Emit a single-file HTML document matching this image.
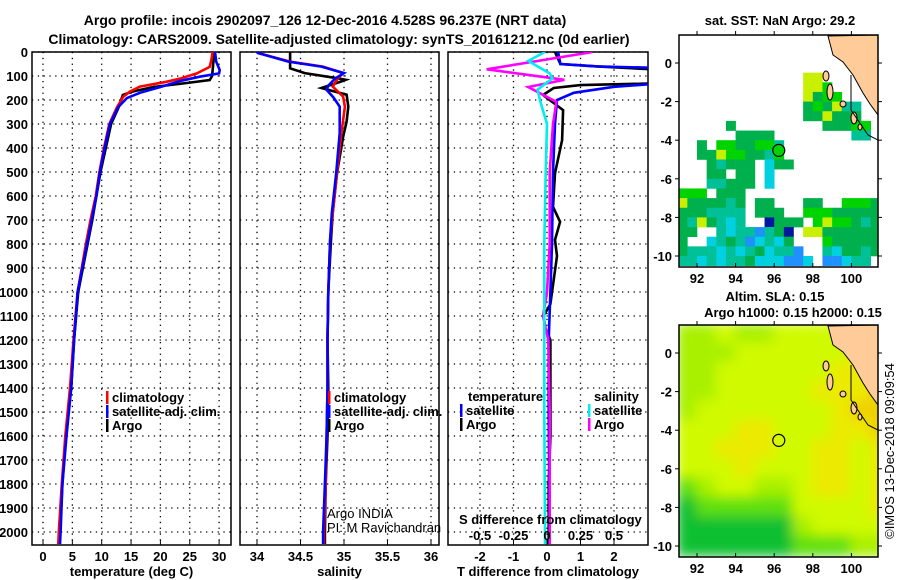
<!DOCTYPE html>
<html><head><meta charset="utf-8"><style>
html,body{margin:0;padding:0;background:#fff;}
svg{display:block;font-family:"Liberation Sans",sans-serif;font-weight:bold;}
</style></head><body>
<svg id="fig" width="900" height="580" viewBox="0 0 900 580" xmlns="http://www.w3.org/2000/svg">
<text x="325" y="25" font-size="14" text-anchor="middle">Argo profile: incois 2902097_126 12-Dec-2016 4.528S 96.237E (NRT data)</text>
<text x="339" y="44" font-size="14" text-anchor="middle">Climatology: CARS2009. Satellite-adjusted climatology: synTS_20161212.nc (0d earlier)</text>
<g id="g"></g>
</svg>
<script>
// ---- data ----
const depthTicks=[0,100,200,300,400,500,600,700,800,900,1000,1100,1200,1300,1400,1500,1600,1700,1800,1900,2000];
const tempTicks=[0,5,10,15,20,25,30];
const salTicks=[34,34.5,35,35.5,36];
const tdiffTicks=[-2,-1,0,1,2];
const sdiffTicks=[-0.5,-0.25,0,0.25,0.5];
const climTDepth=[0,30,62,89,110,124,144,165,186,230,300,400,500,600,700,800,1000,1200,1400,1600,1800,2000,2050];
const climT=[28.9,28.7,28.4,26.2,23.5,21,16.5,14.8,13.7,12.6,11.3,10.4,9.6,9.0,8.1,7.3,5.9,5.2,4.6,3.8,3.2,2.7,2.6];
const argoTDepth=[0,50,100,117,129,146,165,179,230,300,400,500,600,700,800,1000,1200,1400,1600,1800,2000,2050];
const argoT=[29.2,29.0,28.8,28.4,24.5,18.8,15.2,13.6,12.9,11.6,10.7,9.8,9.1,8.4,7.6,6.0,5.3,4.8,3.9,3.3,2.9,2.8];
const satTDepth=[0,40,75,89,103,120,146,170,192,230,300,400,500,600,700,800,1000,1200,1400,1600,1800,2000,2050];
const satT=[29.3,29.5,30.1,30.0,26.7,23.5,20,16.5,14.3,12.8,11.4,10.5,9.7,9.1,8.3,7.5,5.9,5.3,4.8,4.0,3.3,3.0,2.9];
const climSDepth=[0,4,40,61,88,110,144,186,228,338,505,672,783,1000,1200,1400,1600,1800,2000,2050];
const climS=[34.0,34.01,34.38,34.76,34.99,34.93,34.87,34.99,35.01,34.97,34.92,34.87,34.84,34.82,34.81,34.81,34.8,34.79,34.77,34.77];
const argoSDepth=[0,68,88,109,116,125,150,178,228,290,354,505,672,783,1000,1200,1400,1600,1800,2000,2050];
const argoS=[34.38,34.38,34.55,34.92,35.02,34.95,34.74,35.03,35.05,35.03,34.99,34.92,34.87,34.85,34.82,34.81,34.82,34.81,34.79,34.78,34.78];
const satSDepth=[0,4,40,61,88,110,140,158,190,228,338,505,672,783,1000,1200,1400,1600,1800,2000,2050];
const satS=[34.0,34.01,34.36,34.74,35.0,34.9,34.82,34.80,34.88,34.95,34.95,34.91,34.86,34.84,34.82,34.81,34.81,34.80,34.78,34.76,34.76];
const argoDTDepth=[0,50,60,75,130,138,150,179,242,367,505,645,708,783,850,950,1050,1100,1150,1200,1400,1600,1800,2000,2050];
const argoDT=[0.24,0.4,1.5,3.5,3.5,1.0,0.2,-0.12,0.48,0.45,0.24,0.18,0.39,0.24,0.3,0.2,0.1,-0.1,-0.05,0.1,0.1,0.1,0.05,0.05,0.05];
const satDTDepth=[0,50,60,67,130,145,170,200,300,500,800,1000,1200,1500,2000,2050];
const satDT=[0.33,0.4,1.5,3.5,3.5,2.0,0.8,0.3,0.24,0.18,0.15,0.1,0.05,0.05,0.08,0.08];
const argoDSDepth=[0,72,116,146,208,300,500,800,1000,1100,1200,1500,2000,2050];
const argoDS=[0.34,-0.45,0.13,-0.14,0.07,0.045,0.02,0.02,0.0,-0.03,0.01,0.02,0.02,0.02];
const satDSDepth=[0,37,89,110,157,206,300,500,800,1000,1500,2000,2050];
const satDS=[-0.015,-0.14,0.02,0.04,-0.07,-0.05,0,-0.01,-0.02,-0.02,-0.02,-0.015,-0.015];
const lonTicks=[92,94,96,98,100];
const latTicks=[0,-2,-4,-6,-8,-10];
const argoLon=96.237, argoLat=-4.528;
const sstGrid=[
".....................",
".....................",
".....................",
".....................",
".............yy......",
".............yyb.....",
".............ygbb....",
".............gbgytt..",
".............ggyggg..",
".....g.........gggbb.",
"......gggg........tt.",
"..g.bbggbbt..........",
"..ggybbggtb..........",
"...gtggg.cgg.........",
"...gg.gg.c...........",
"...ttggg.c...........",
"bbb.ggg..............",
"yggggtg.gg...gg..bbbg",
"gggtttt.ggg..bbbggggg",
"gtygtct..nggg.bybbgtg",
"gg..tcttutgn.yygggggg",
"g..ctgtuctcg...bggggg",
"gtttctctgcttu..tcggtg",
"ttctcttgcccuuc.uuctt."];
const sstColors={g:"#00b04c",b:"#00d400",y:"#c8f000",t:"#00c098",c:"#00d0e0",u:"#2090ff",n:"#0018a0"};
const slaGrid=[
[2,2,3,2,2,3,3,3,3,3,3],
[2,2,2,3,3,3,3,3,3,4,4],
[2,2,3,3,3,3,3,3,4,4,4],
[2,2,3,3,3,3,3,4,4,4,5],
[2,3,3,3,3,3,3,3,4,5,5],
[3,3,3,4,4,3,3,3,4,4,5],
[3,3,4,4,4,3,3,4,4,3,4],
[3,3,3,4,3,3,3,4,4,3,4],
[1,2,3,3,2,2,3,4,4,3,4],
[0,1,1,1,1,1,3,3,3,3,4],
[0,0,0,0,0,0,2,3,3,3,3],
[0,0,0,0,0,0,1,1,1,2,2]];
const slaColors=["#10c030","#60e010","#a8f000","#d0fa00","#ecea00","#f0d000"];

// ---- helpers ----
const NS="http://www.w3.org/2000/svg";
const G=document.getElementById('g');
function mk(tag,attrs,parent){const e=document.createElementNS(NS,tag);for(const k in attrs)e.setAttribute(k,attrs[k]);(parent||G).appendChild(e);return e;}
const top0=52, bot=545;
const yD=d=>top0+d*0.24;
const panels=[
 {x0:32,x1:231,name:'temperature-panel',xf:v=>43+v*5.87,ticks:tempTicks,lab:'temperature (deg C)'},
 {x0:240,x1:439,name:'salinity-panel',xf:v=>257+(v-34)*87,ticks:salTicks,lab:'salinity'},
 {x0:448,x1:648,name:'difference-panel',xf:v=>547+v*33.5,ticks:tdiffTicks,lab:'T difference from climatology'}];
const sx=v=>547+v*134;
let defs=mk('defs',{});
panels.forEach((p,i)=>{
  const cp=mk('clipPath',{id:'cp'+i},defs);
  mk('rect',{x:p.x0,y:top0,width:p.x1-p.x0,height:bot-top0},cp);
  const g=mk('g',{});
  
  
  depthTicks.forEach(d=>{const l=mk('line',{x1:p.x0,x2:p.x1,y1:yD(d),y2:yD(d),stroke:'#000','stroke-width':1.3,'stroke-dasharray':'1.3 4.5'},g);
    });
  p.ticks.forEach(t=>{const x=p.xf(t);
    const l=mk('line',{x1:x,x2:x,y1:top0,y2:bot,stroke:'#000','stroke-width':1.3,'stroke-dasharray':'1.3 4.5'},g);
    
    mk('line',{x1:x,x2:x,y1:bot,y2:bot-5,stroke:'#000','stroke-width':1},g);
    const tx=mk('text',{x:x,y:561,'font-size':13,'text-anchor':'middle'},g);tx.textContent=String(t);
    });
  const fr=mk('rect',{x:p.x0,y:top0,width:p.x1-p.x0,height:bot-top0,fill:'none',stroke:'#000','stroke-width':1.5},g);
  
  const xl=mk('text',{x:(p.x0+p.x1)/2,y:576,'font-size':13,'text-anchor':'middle'},g);xl.textContent=p.lab;
  
  p.g=g;
});
depthTicks.forEach(d=>{const t=mk('text',{x:28,y:yD(d)+5,'font-size':13,'text-anchor':'end'});t.textContent=String(d);
  });
function line(pi,depths,vals,xf,color,name){
  const pts=depths.map((d,k)=>xf(vals[k]).toFixed(1)+','+yD(d).toFixed(1)).join(' ');
  const l=mk('polyline',{points:pts,fill:'none',stroke:color,'stroke-width':2.6,'clip-path':'url(#cp'+pi+')'},panels[pi].g);
  
  
}
const pT=panels[0].xf,pS=panels[1].xf,pD=panels[2].xf;
line(0,argoTDepth,argoT,pT,'#000','argo-temperature-line');
line(0,climTDepth,climT,pT,'#f00','climatology-temperature-line');
line(0,satTDepth,satT,pT,'#00f','satellite-temperature-line');
line(1,argoSDepth,argoS,pS,'#000','argo-salinity-line');
line(1,climSDepth,climS,pS,'#f00','climatology-salinity-line');
line(1,satSDepth,satS,pS,'#00f','satellite-salinity-line');
line(2,argoDTDepth,argoDT,pD,'#000','argo-t-diff-line');
line(2,satDTDepth,satDT,pD,'#00f','satellite-t-diff-line');
line(2,argoDSDepth,argoDS,sx,'#f0f','argo-s-diff-line');
line(2,satDSDepth,satDS,sx,'#0ee','satellite-s-diff-line');
function leg(x,y,color,txt,name){
  const r=mk('rect',{x:x,y:y-11,width:2.5,height:13,fill:color});
  
  const t=mk('text',{x:x+6,y:y,'font-size':13});t.textContent=txt;
  
}
leg(106,402,'#f00','climatology','legend-climatology');
leg(106,416,'#00f','satellite-adj. clim.','legend-satellite');
leg(106,430,'#000','Argo','legend-argo');
leg(328,402,'#f00','climatology','legend-climatology-sal');
leg(328,416,'#00f','satellite-adj. clim.','legend-satellite-sal');
leg(328,430,'#000','Argo','legend-argo-sal');
let t=mk('text',{x:468,y:401,'font-size':13});t.textContent='temperature';
t=mk('text',{x:594,y:401,'font-size':13});t.textContent='salinity';
leg(460,415,'#00f','satellite','legend-t-satellite');
leg(460,429,'#000','Argo','legend-t-argo');
leg(588,415,'#0ee','satellite','legend-s-satellite');
leg(588,429,'#f0f','Argo','legend-s-argo');
t=mk('text',{x:327,y:518,'font-size':13,'font-weight':'normal'});t.textContent='Argo INDIA';
t=mk('text',{x:327,y:532,'font-size':13,'font-weight':'normal'});t.textContent='PI: M Ravichandran';
t=mk('text',{x:459,y:524,'font-size':13});t.textContent='S difference from climatology';
sdiffTicks.forEach(v=>{const e=mk('text',{x:sx(v),y:540,'font-size':13,'text-anchor':'middle'});e.textContent=String(v);
  });

// ---- maps ----
const mx0=679,mx1=878;
const lonX=l=>697+(l-92)*19.3;
function map(oy,kind){
  const latY=a=>63+oy-a*19.3;
  const y0=35+oy,y1=267+oy;
  const cp=mk('clipPath',{id:'mc'+kind},defs);
  mk('rect',{x:mx0,y:y0,width:mx1-mx0,height:y1-y0},cp);
  const g=mk('g',{'clip-path':'url(#mc'+kind+')'});
  
  
  if(kind==='sst'){
    sstGrid.forEach((row,r)=>{for(let c=0;c<row.length;c++){const ch=row[c];if(!sstColors[ch])continue;
      const lon=91+c*0.5,lat=1.5-r*0.5;
      const e=mk('rect',{x:lonX(lon),y:latY(lat),width:19.3*0.5+0.3,height:19.3*0.5+0.3,fill:sstColors[ch]},g);
      }});
  } else {
    const bg=mk('g',{filter:'url(#blur)'},g);
    slaGrid.forEach((row,r)=>row.forEach((v,c)=>{const lon=91+c,lat=1.5-r;
      const e=mk('rect',{x:lonX(lon)-1,y:latY(lat)-1,width:21.3,height:21.3,fill:slaColors[v]},bg);
      }));
  }
  const land=mk('path',{d:`M828,${36+oy} L833,${55+oy} L843,${62+oy} L853,${75+oy} L863,${93+oy} L870,${104+oy} L878,${115+oy} L878,${35+oy} Z`,fill:'#ffcc99',stroke:'#000','stroke-width':1},g);
  
  [[826,76,3,5],[830,92,3,8],[843,104,3,3],[854,118,3,6],[860,127,2,3]].forEach(a=>{
    const e=mk('ellipse',{cx:a[0],cy:a[1]+oy,rx:a[2],ry:a[3],fill:'#ffcc99',stroke:'#000','stroke-width':1},g);
    });
  mk('polyline',{points:`851,${75+oy} 851,${110+oy} 868,${135+oy} 878,${140+oy}`,fill:'none',stroke:'#000','stroke-width':1},g);
  const fr=mk('rect',{x:mx0,y:y0,width:mx1-mx0,height:y1-y0,fill:'none',stroke:'#000','stroke-width':1.5});
  
  lonTicks.forEach(l=>{const x=lonX(l);mk('line',{x1:x,x2:x,y1:y1,y2:y1-4,stroke:'#000'});mk('line',{x1:x,x2:x,y1:y0,y2:y0-4,stroke:'#000'});
    const e=mk('text',{x:x,y:y1+16,'font-size':13,'text-anchor':'middle'});e.textContent=String(l);
    });
  latTicks.forEach(a=>{const y=latY(a);mk('line',{x1:mx0,x2:mx0-4,y1:y,y2:y,stroke:'#000'});mk('line',{x1:mx1,x2:mx1+4,y1:y,y2:y,stroke:'#000'});
    const e=mk('text',{x:672,y:y+5,'font-size':13,'text-anchor':'end'});e.textContent=String(a);
    });
  const c=mk('circle',{cx:lonX(argoLon),cy:latY(argoLat),r:6,fill:kind==='sst'?'#00d400':'none',stroke:'#000','stroke-width':1.2});
  
}
const f=mk('filter',{id:'blur',x:'-10%',y:'-10%',width:'120%',height:'120%'},defs);
mk('feGaussianBlur',{stdDeviation:6},f);
map(0,'sst');
map(290,'sla');
t=mk('text',{x:780,y:25,'font-size':13,'text-anchor':'middle'});t.textContent='sat. SST: NaN Argo: 29.2';
t=mk('text',{x:775,y:301,'font-size':13,'text-anchor':'middle'});t.textContent='Altim. SLA: 0.15';
t=mk('text',{x:793,y:317,'font-size':13,'text-anchor':'middle'});t.textContent='Argo h1000: 0.15 h2000: 0.15';
t=mk('text',{x:0,y:0,'font-size':13,'font-weight':'normal','text-anchor':'middle',transform:'translate(894,451) rotate(-90)'});t.textContent='©IMOS 13-Dec-2018 09:09:54';
</script>
</body></html>
